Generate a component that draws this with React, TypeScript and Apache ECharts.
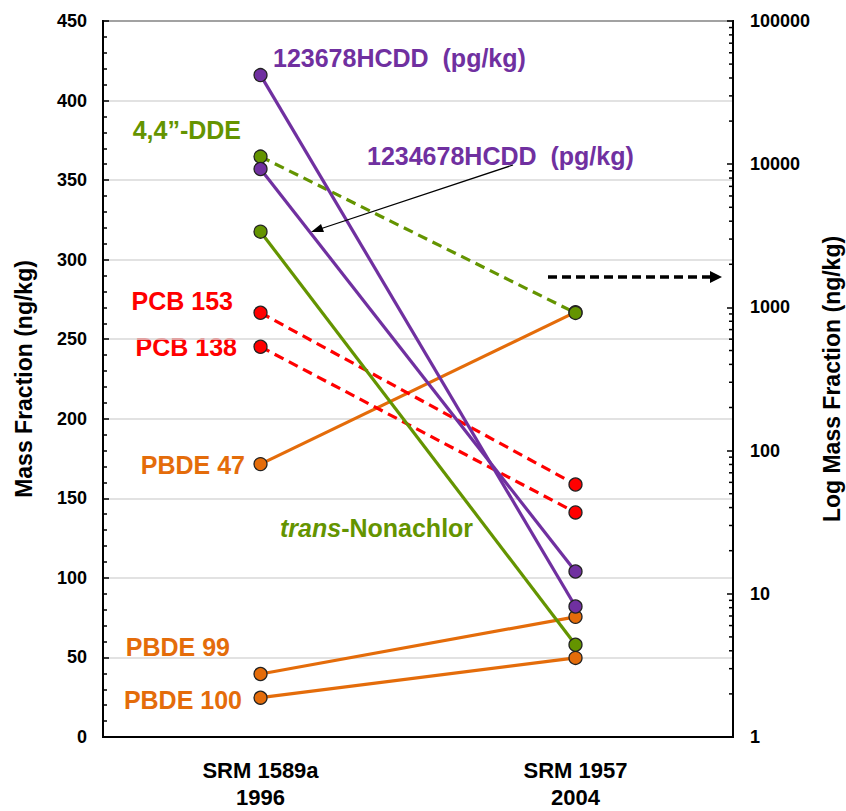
import React, { useEffect, useRef } from "react";
import * as echarts from "echarts";

const categories = ["SRM 1589a\n1996", "SRM 1957\n2004"];

// Solid lines, left (linear) axis, ng/kg or pg/kg
const pbde47 = [171.5, 267];
const pbde99 = [39.6, 75.5];
const pbde100 = [24.7, 49.7];
const transNonachlor = [317.6, 58];
const hcdd123678 = [416, 82];
const hcdd1234678 = [357, 104];

// Dashed lines, right (log) axis
const dde = [11300, 915];
const pcb153 = [918, 58];
const pcb138 = [531, 37];

const leftTicks = { min: 0, max: 450, interval: 50 };
const rightTicks = { min: 1, max: 100000 };
const rightMinorTicks: number[] = [];
for (let d = 1; d < 100000; d *= 10) {
  for (let m = 2; m <= 9; m++) rightMinorTicks.push(m * d);
}

const PURPLE = "#7030A0";
const GREEN = "#649400";
const ORANGE = "#E46C0A";
const RED = "#FF0000";
const FONT = "'Liberation Sans', Arial, sans-serif";

export default function App() {
  const ref = useRef<HTMLDivElement>(null);
  useEffect(() => {
    if (!ref.current) return;
    const chart = echarts.init(ref.current, undefined, { renderer: "svg" });

    const mk = (name: string, data: number[], color: string, axis: number, dashed: boolean) => ({
      name,
      type: "line",
      yAxisIndex: axis,
      data,
      symbol: "circle",
      symbolSize: 13,
      lineStyle: { color, width: 3.2, type: dashed ? [10, 6] : "solid" },
      itemStyle: { color, borderColor: "#222", borderWidth: 1.3 },
      z: 3,
    });

    const labelStyle = (color: string) => ({
      fontFamily: FONT,
      fontWeight: "bold",
      fontSize: 25,
      fill: color,
    });

    chart.setOption({
      animation: false,
      backgroundColor: "#fff",
      grid: {
        left: 103,
        right: 113,
        top: 21,
        bottom: 74,
        show: true,
        borderColor: "#000",
        borderWidth: 2,
        outerBoundsMode: "none",
        containLabel: false,
      },
      xAxis: {
        type: "category",
        data: categories,
        boundaryGap: true,
        axisLine: { lineStyle: { color: "#000", width: 2 } },
        axisTick: { show: false },
        axisLabel: {
          color: "#000",
          fontFamily: FONT,
          fontWeight: "bold",
          fontSize: 22,
          lineHeight: 27,
          margin: 20,
        },
      },
      yAxis: [
        {
          type: "value",
          min: leftTicks.min,
          max: leftTicks.max,
          interval: leftTicks.interval,
          name: "Mass Fraction (ng/kg)",
          nameLocation: "middle",
          nameGap: 68,
          nameTextStyle: { color: "#000", fontFamily: FONT, fontWeight: "bold", fontSize: 23 },
          axisLine: { show: true, lineStyle: { color: "#000", width: 2 } },
          axisTick: { show: true, inside: true, length: 6, lineStyle: { color: "#000", width: 1.5 } },
          minorTick: { show: true, splitNumber: 5, length: 4, lineStyle: { color: "#000", width: 1.5 } },
          splitLine: { show: true, lineStyle: { color: "#d9d9d9", width: 1.5 } },
          axisLabel: { color: "#000", fontFamily: FONT, fontWeight: "bold", fontSize: 18, margin: 16 },
        },
        {
          type: "log",
          logBase: 10,
          min: rightTicks.min,
          max: rightTicks.max,
          position: "right",
          name: "Log Mass Fraction (ng/kg)",
          nameLocation: "middle",
          nameGap: 87,
          nameRotate: 90,
          nameTextStyle: { color: "#000", fontFamily: FONT, fontWeight: "bold", fontSize: 23 },
          axisLine: { show: true, lineStyle: { color: "#000", width: 2 } },
          axisTick: { show: true, inside: true, length: 6, lineStyle: { color: "#000", width: 1.5 } },
          splitLine: { show: false },
          axisLabel: {
            color: "#000",
            fontFamily: FONT,
            fontWeight: "bold",
            fontSize: 18,
            margin: 17,
            formatter: (v: number) => String(Math.round(v)),
          },
        },
      ],
      series: [
        {
          type: "custom",
          yAxisIndex: 1,
          silent: true,
          data: rightMinorTicks.map((v) => [0, v]),
          renderItem: (params: any, api: any) => {
            const y = api.coord([0, api.value(1)])[1];
            const cs = params.coordSys;
            const x = cs.x + cs.width;
            return {
              type: "line",
              shape: { x1: x - 4, y1: y, x2: x, y2: y },
              style: { stroke: "#000", lineWidth: 1.5 },
            };
          },
          z: 2,
        },
        mk("PBDE 47", pbde47, ORANGE, 0, false),
        mk("PBDE 99", pbde99, ORANGE, 0, false),
        mk("PBDE 100", pbde100, ORANGE, 0, false),
        mk("PCB 153", pcb153, RED, 1, true),
        mk("PCB 138", pcb138, RED, 1, true),
        mk("trans-Nonachlor", transNonachlor, GREEN, 0, false),
        mk("4,4”-DDE", dde, GREEN, 1, true),
        mk("123678HCDD", hcdd123678, PURPLE, 0, false),
        mk("1234678HCDD", hcdd1234678, PURPLE, 0, false),
      ],
      graphic: [
        { type: "text", left: 273, top: 45, style: { text: "123678HCDD  (pg/kg)", ...labelStyle(PURPLE) } },
        { type: "text", left: 367, top: 143, style: { text: "1234678HCDD  (pg/kg)", ...labelStyle(PURPLE) } },
        { type: "text", right: 846 - 241, top: 117, style: { text: "4,4”-DDE", ...labelStyle(GREEN) } },
        { type: "text", right: 846 - 233, top: 288, style: { text: "PCB 153", ...labelStyle(RED) } },
        { type: "text", right: 846 - 237, top: 334, style: { text: "PCB 138", ...labelStyle(RED) } },
        { type: "text", right: 846 - 245, top: 452, style: { text: "PBDE 47", ...labelStyle(ORANGE) } },
        { type: "text", right: 846 - 230, top: 634, style: { text: "PBDE 99", ...labelStyle(ORANGE) } },
        { type: "text", right: 846 - 242, top: 687, style: { text: "PBDE 100", ...labelStyle(ORANGE) } },
        {
          type: "text",
          left: 280,
          top: 515,
          style: {
            text: "{i|trans}{n|-Nonachlor}",
            rich: {
              i: { fontFamily: FONT, fontWeight: "bold", fontStyle: "italic", fontSize: 25, fill: GREEN, color: GREEN },
              n: { fontFamily: FONT, fontWeight: "bold", fontSize: 25, fill: GREEN, color: GREEN },
            },
          },
        },
        {
          type: "line",
          shape: { x1: 513, y1: 165, x2: 320, y2: 229 },
          style: { stroke: "#000", lineWidth: 1.3 },
          z: 10,
        },
        {
          type: "polygon",
          shape: { points: [[311, 232], [321, 224], [324, 232]] },
          style: { fill: "#000" },
          z: 10,
        },
        {
          type: "line",
          shape: { x1: 548, y1: 277, x2: 712, y2: 277 },
          style: { stroke: "#000", lineWidth: 3.5, lineDash: [9, 5] },
          z: 10,
        },
        {
          type: "polygon",
          shape: { points: [[710, 271], [722, 277], [710, 283]] },
          style: { fill: "#000" },
          z: 10,
        },
      ],
    });
    return () => chart.dispose();
  }, []);
  return (
    <div
      ref={ref}
      style={{ position: "absolute", left: 0, top: 0, width: 846, height: 811 }}
    />
  );
}
